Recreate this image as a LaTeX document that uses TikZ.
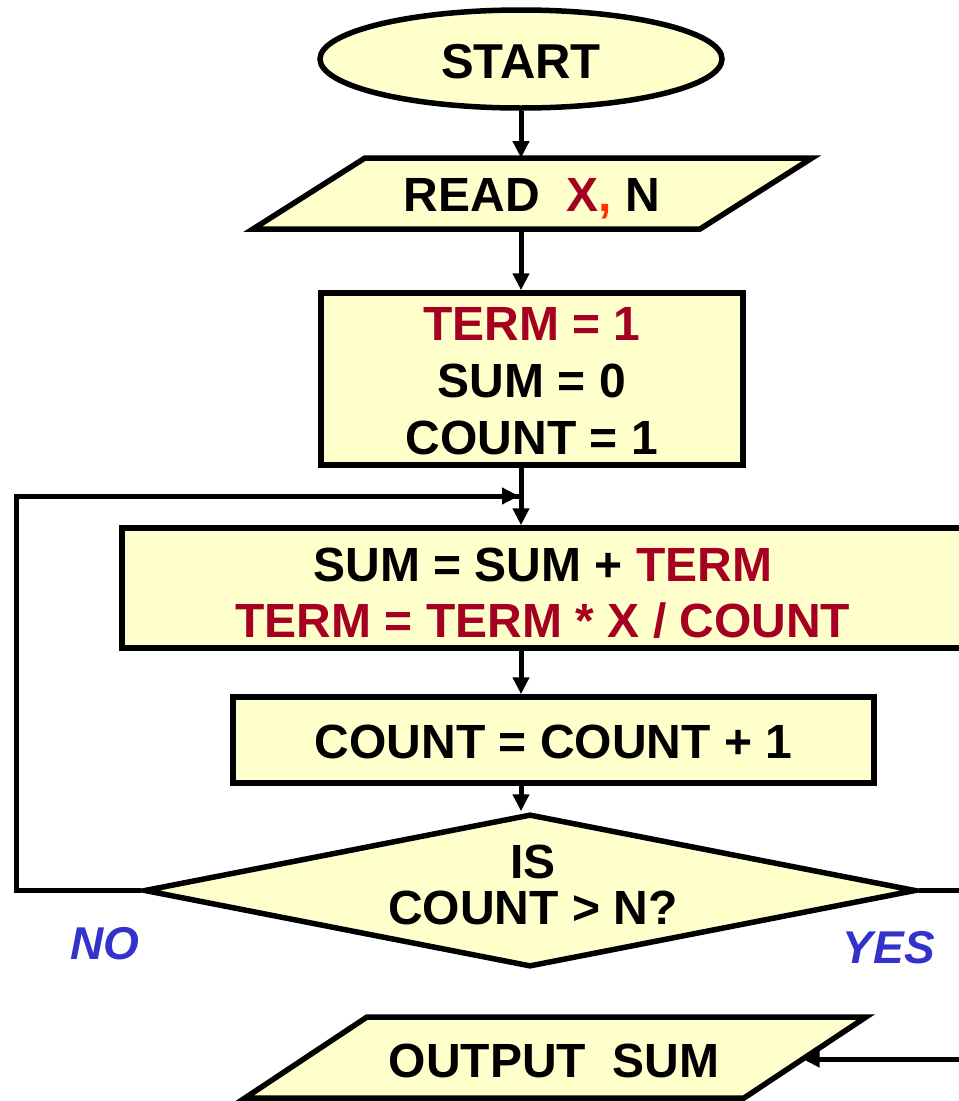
\documentclass[tikz,border=0pt]{standalone}
\usepackage{fontspec}
\setmainfont{Liberation Sans}
\usetikzlibrary{arrows.meta,shapes.geometric,calc,backgrounds}
\definecolor{fillc}{HTML}{FFFFCC}
\definecolor{dred}{HTML}{A50021}
\definecolor{orng}{HTML}{FF3300}
\definecolor{lblue}{HTML}{3333CC}
\begin{document}
\begin{tikzpicture}[x=1pt,y=-1pt,
  box/.style={draw=black, line width=5.5pt, fill=fillc, inner sep=0pt},
  txt/.style={font=\fontsize{48}{57}\selectfont\bfseries, align=center, inner sep=0pt, outer sep=0pt},
  conn/.style={line width=5pt, -{Triangle[length=17pt,width=16pt]}},
  plain/.style={line width=5pt},
  lab/.style={font=\fontsize{46}{50}\selectfont\bfseries\itshape, text=lblue, inner sep=0pt}
]
\useasboundingbox (0,0) rectangle (959,1101);
\clip (0,0) rectangle (959,1101);

% START
\node[ellipse, box, minimum width=402pt, minimum height=98pt] (start) at (521,59) {};
\node[txt, font=\fontsize{49}{57}\selectfont\bfseries] (startt) at (521,62) {START};

% READ parallelogram
\node[minimum width=335pt, minimum height=71pt, inner sep=0pt, outer sep=0pt] (read) at (532.5,193.5) {};
\draw[box, line join=miter] (read.north west) -- ($(read.north east)+(112,0)$) -- (read.south east) -- ($(read.south west)+(-112,0)$) -- cycle;
\node[txt] (readt) at (532,199) {READ\ \ \textcolor{dred}{X}\textcolor{orng}{,} N};

% init box
\node[box, minimum width=422pt, minimum height=172pt] (init) at (532,379) {};
\node[txt] (initt) at (532,381) {\textcolor{dred}{TERM = 1}\\SUM = 0\\COUNT = 1};

% SUM box
\node[box, minimum width=843pt, minimum height=120pt] (sum) at (543.5,588) {};
\node[txt, font=\fontsize{48}{56}\selectfont\bfseries] (sumt) at (543,593)
  {SUM = SUM + \textcolor{dred}{TERM}\\\textcolor{dred}{TERM = TERM * X / COUNT}};

% COUNT box
\node[box, minimum width=641pt, minimum height=86pt] (cnt) at (553.5,740) {};
\node[txt] (cntt) at (553.5,741.5) {COUNT = COUNT + 1};

% decision
\node[diamond, box, minimum width=772pt, minimum height=153pt] (dia) at (530,890.5) {};
\node[txt, font=\fontsize{48}{46}\selectfont\bfseries] (diat) at (533,885) {IS\\COUNT > N?};

% OUTPUT parallelogram
\node[minimum width=377pt, minimum height=81pt, inner sep=0pt, outer sep=0pt] (out) at (555.5,1057.5) {};
\draw[box, line join=miter] (out.north west) -- ($(out.north east)+(122,0)$) coordinate (outTR) -- (out.south east) coordinate (outBR) -- ($(out.south west)+(-122,0)$) -- cycle;
\node[txt] (outt) at (554,1060.5) {OUTPUT\ \ SUM};

% connectors
\draw[conn] (start.south) -- (start.south |- read.north);
\draw[conn] (start.south |- read.south) -- (start.south |- init.north);
\draw[conn] (start.south |- init.south) -- (start.south |- sum.north);
\draw[conn] (start.south |- sum.south) -- (start.south |- cnt.north);
\draw[conn] (start.south |- cnt.south) -- (start.south |- dia.north);

% NO loop
\coordinate (noL) at (16,890.5);
\coordinate (noT) at (16,496);
\coordinate (joinP) at (519,496);
\draw[plain, line join=miter] (dia.west) -- (noL) -- (noT) -- (joinP);
\draw[conn] ($(noT)+(100,0)$) -- (joinP);

% YES path
\coordinate (yesR) at (990,890.5);
\coordinate (yesB) at (990,1059);
\coordinate (outP) at ($(outTR)!0.52!(outBR)$);
\draw[plain] (dia.east) -- (yesR) -- (yesB);
\draw[conn] (yesB) -- (yesB -| outP);

% labels
\node[lab] (no) at (105,943.5) {NO};
\node[lab] (yes) at (889,948) {YES};
\end{tikzpicture}
\end{document}
